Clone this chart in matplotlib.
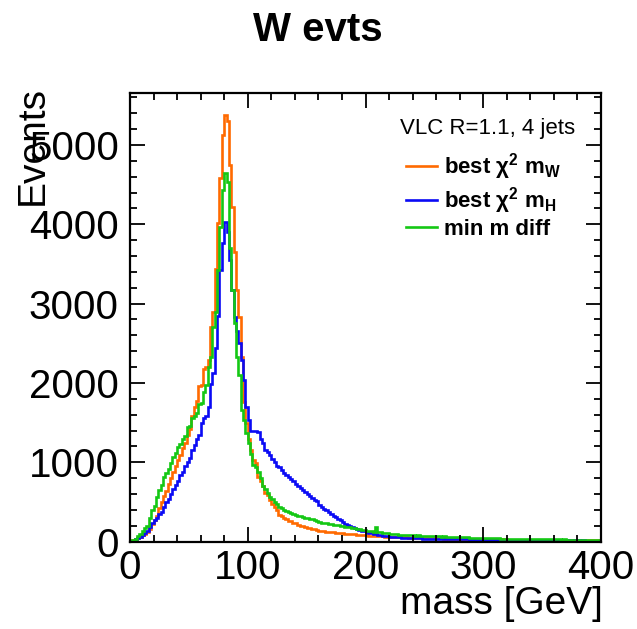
import numpy as np
import matplotlib
matplotlib.use("Agg")
import matplotlib.pyplot as plt
from matplotlib.ticker import MultipleLocator

plt.rcParams['font.family'] = ['Liberation Sans', 'DejaVu Sans']
plt.rcParams['mathtext.fontset'] = 'custom'
plt.rcParams['mathtext.rm'] = 'Liberation Sans'
plt.rcParams['mathtext.bf'] = 'Liberation Sans:bold'
plt.rcParams['mathtext.it'] = 'Liberation Sans:italic'

# 2 GeV bins from 0 to 400 GeV
bin_width = 2
x_max = 400

# best chi2 mW (orange)
best_mw = [
    5, 20, 35, 50, 65, 80, 100, 125, 160, 220,
    270, 330, 430, 500, 570, 640, 730, 800, 880, 950,
    1030, 1090, 1180, 1240, 1350, 1420, 1590, 1700, 1770, 1960,
    1980, 2180, 2200, 2290, 2710, 2900, 3430, 4010, 4580, 5120,
    5380, 5300, 4750, 4220, 3650, 3170, 2830, 2330, 1760, 1490,
    1290, 1150, 1030, 990, 820, 760, 700, 610, 590, 520,
    480, 440, 400, 340, 330, 300, 280, 260, 255, 240,
    230, 215, 200, 195, 180, 175, 170, 165, 160, 150,
    140, 135, 130, 128, 125, 122, 118, 115, 112, 108,
    105, 102, 100, 98, 95, 92, 90, 88, 85, 82,
    80, 78, 76, 74, 72, 70, 68, 66, 64, 62,
    60, 58, 57, 56, 55, 54, 56, 53, 52, 51,
    52, 50, 49, 48, 47, 46, 47, 45, 44, 43,
    43, 42, 41, 40, 41, 39, 38, 39, 37, 36,
    36, 35, 36, 34, 33, 34, 32, 33, 31, 32,
    31, 30, 31, 29, 30, 28, 29, 28, 27, 28,
    27, 26, 27, 25, 26, 24, 25, 24, 25, 23,
    24, 23, 22, 24, 22, 21, 23, 21, 22, 20,
    21, 20, 21, 19, 20, 19, 20, 18, 19, 18,
    19, 18, 17, 19, 18, 17, 18, 16, 17, 16,
]

# best chi2 mH (blue)
best_mh = [
    5, 15, 30, 45, 60, 80, 105, 140, 190, 230,
    270, 300, 350, 380, 440, 500, 540, 600, 660, 710,
    770, 840, 880, 950, 1010, 1060, 1150, 1220, 1290, 1350,
    1490, 1560, 1580, 1700, 1990, 2130, 2440, 2850, 3420, 3760,
    4030, 3900, 3550, 3170, 2830, 2650, 2500, 2290, 2040, 1700,
    1530, 1400, 1390, 1390, 1380, 1300, 1240, 1160, 1130, 1090,
    1040, 1000, 960, 940, 900, 870, 840, 810, 790, 760,
    730, 700, 680, 650, 620, 600, 570, 550, 530, 510,
    460, 440, 415, 400, 380, 355, 330, 305, 290, 270,
    245, 225, 210, 195, 180, 170, 160, 150, 140, 130,
    125, 115, 105, 98, 92, 86, 80, 75, 70, 66,
    63, 60, 58, 56, 54, 52, 50, 49, 48, 46,
    45, 44, 43, 42, 40, 39, 38, 37, 36, 35,
    34, 34, 33, 32, 33, 31, 32, 30, 31, 30,
    29, 30, 28, 29, 27, 28, 26, 27, 26, 25,
    26, 24, 25, 24, 23, 25, 23, 22, 24, 22,
    23, 21, 22, 21, 22, 20, 21, 20, 21, 19,
    20, 19, 20, 18, 19, 18, 19, 17, 18, 17,
    18, 17, 16, 18, 17, 16, 17, 15, 16, 15,
    16, 15, 16, 14, 15, 14, 15, 13, 14, 13,
]

# min m diff (green)
min_mdiff = [
    5, 20, 40, 70, 100, 130, 170, 200, 300, 400,
    450, 560, 650, 720, 820, 860, 920, 990, 1070, 1120,
    1190, 1230, 1300, 1330, 1440, 1460, 1560, 1580, 1620, 1730,
    1750, 1890, 1980, 2200, 2330, 2700, 2900, 3420, 3970, 4430,
    4650, 4530, 3700, 3170, 2750, 2330, 2100, 1660, 1530, 1365,
    1240, 1110, 966, 940, 880, 800, 700, 670, 610, 560,
    540, 500, 470, 440, 420, 400, 390, 370, 360, 350,
    340, 330, 320, 310, 300, 295, 290, 285, 270, 260,
    250, 240, 235, 230, 225, 220, 215, 210, 205, 200,
    195, 190, 185, 180, 175, 170, 165, 160, 150, 145,
    140, 135, 130, 128, 190, 122, 118, 112, 108, 105,
    100, 98, 96, 92, 90, 88, 86, 85, 83, 82,
    80, 78, 80, 76, 75, 77, 73, 72, 70, 71,
    68, 67, 65, 66, 63, 62, 60, 61, 58, 57,
    56, 55, 53, 54, 51, 50, 49, 48, 47, 46,
    45, 44, 45, 43, 42, 41, 42, 40, 39, 40,
    38, 39, 37, 36, 37, 35, 36, 34, 35, 33,
    34, 32, 33, 31, 32, 30, 31, 29, 30, 29,
    30, 28, 29, 27, 28, 26, 27, 26, 27, 25,
    26, 24, 25, 23, 24, 23, 24, 22, 23, 22,
]

labels = [r'best χ$^{\mathbf{2}}$ m$_{\mathbf{W}}$',
          r'best χ$^{\mathbf{2}}$ m$_{\mathbf{H}}$',
          'min m diff']
colors = ['#ff6a00', '#0a0af5', '#14c814']

edges = np.arange(0, x_max + bin_width, bin_width)

fig = plt.figure(figsize=(6.37, 6.29), dpi=100)
ax = fig.add_axes([130/637, 1 - 541.7/629, 471/637, 448.4/629])

for vals, col, lab in zip([best_mw, best_mh, min_mdiff], colors, labels):
    ax.stairs(np.array(vals), edges, color=col, lw=1.9, label=lab)

ax.set_xlim(0, 400)
ax.set_ylim(0, 5650)
ax.xaxis.set_major_locator(MultipleLocator(100))
ax.xaxis.set_minor_locator(MultipleLocator(20))
ax.yaxis.set_major_locator(MultipleLocator(1000))
ax.yaxis.set_minor_locator(MultipleLocator(200))
ax.tick_params(which='both', direction='in', top=True, right=True, width=1.3)
ax.tick_params(which='major', length=10.5, labelsize=29)
ax.tick_params(which='minor', length=5)
ax.tick_params(axis='y', pad=8)
ax.tick_params(axis='x', pad=5)
for s in ax.spines.values():
    s.set_linewidth(1.6)

leg = ax.legend(loc='upper left', bbox_to_anchor=(0.585, 0.87), frameon=False,
                prop={'size': 16, 'weight': 'bold'}, handlelength=1.4,
                handletextpad=0.35, labelspacing=0.12, borderpad=0, borderaxespad=0)

ax.text(0.945, 0.922, 'VLC R=1.1, 4 jets', transform=ax.transAxes,
        ha='right', va='center', fontsize=16)

fig.text(318/637, 1 - 30/629, 'W evts', ha='center', va='center',
         fontsize=29, fontweight='bold')
fig.text(33/637, 1 - 86/629, 'Events', rotation=90, ha='center', va='top',
         fontsize=28)
fig.text(603/637, 1 - 614/629, 'mass [GeV]', ha='right', va='baseline',
         fontsize=28)

fig.savefig('out.png', dpi=100)
